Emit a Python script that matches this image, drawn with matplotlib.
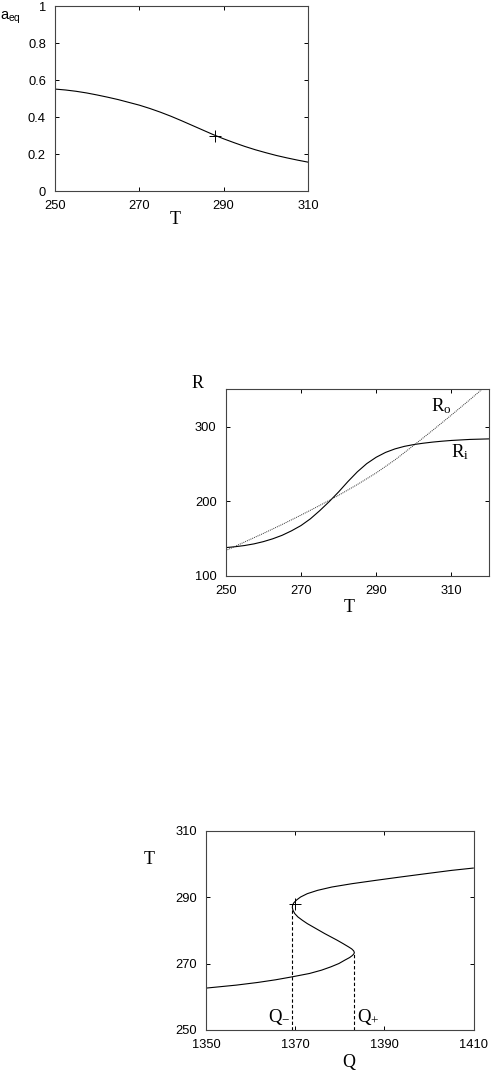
import numpy as np
import matplotlib
matplotlib.use('Agg')
import matplotlib.pyplot as plt

plt.rcParams['font.family'] = ['Liberation Sans', 'DejaVu Sans']
plt.rcParams['mathtext.fontset'] = 'custom'
plt.rcParams['mathtext.rm'] = 'Liberation Serif'
plt.rcParams['mathtext.it'] = 'Liberation Serif'
plt.rcParams['mathtext.sf'] = 'Liberation Sans'

# painel 1: a_eq(T)
T1 = [250, 252.5, 255, 257.5, 260, 262.5, 265, 267.5, 270, 272.5, 275, 277.5, 280,
      282.5, 285, 287.5, 290, 292.5, 295, 297.5, 300, 302.5, 305, 307.5, 310]
a_eq = [0.551, 0.546, 0.539, 0.530, 0.519, 0.507, 0.494, 0.479, 0.464, 0.446, 0.426, 0.404, 0.380,
        0.355, 0.330, 0.305, 0.282, 0.261, 0.241, 0.223, 0.207, 0.192, 0.179, 0.167, 0.156]
ponto1 = (288, 0.30)

# painel 2: R_i e R_o em funcao de T
T2 = [250, 252.5, 255, 257.5, 260, 262.5, 265, 267.5, 270, 272.5, 275, 277.5, 280, 282.5,
      285, 287.5, 290, 292.5, 295, 297.5, 300, 302.5, 305, 307.5, 310, 315, 320]
R_i = [138, 139.2, 140.8, 143, 146, 149.8, 154.5, 160.5, 167.5, 176.5, 187.5, 199.5, 212.5, 226.5,
       239.5, 250.5, 259, 265.5, 270.2, 273.6, 276, 277.8, 279.3, 280.5, 281.5, 282.9, 283.6]
T2o = [250, 255, 260, 265, 270, 275, 280, 285, 290, 295, 300, 305, 310, 315, 320]
R_o = [134, 145.5, 157, 169, 181.5, 194.5, 208, 222.5, 238, 255.5, 275, 295, 315.5, 336.5, 358]

# painel 3: curva S, T(Q)
T3 = [262.6, 263.5, 264.3, 265.1, 266.0, 267.0, 268.0, 269.0, 270.0, 271.0, 271.8, 272.4, 272.9,
      273.3, 273.8, 274.4, 275.0, 276.0, 277.0, 278.0, 279.0, 280.0, 281.0, 282.0, 283.0, 284.0,
      285.0, 286.0, 286.8, 287.5, 288.2, 289.1, 290.0, 291.0, 292.0, 293.0, 294.0, 295.0, 296.0,
      297.0, 298.0, 298.7]
Q3 = [1350, 1356.8, 1361.6, 1365.6, 1369.35, 1373.2, 1375.9, 1378.0, 1379.8, 1381.1, 1382.2, 1382.8,
      1383.15, 1383.25, 1383.1, 1382.65, 1381.95, 1380.7, 1379.4, 1378.0, 1376.6, 1375.3, 1374.0, 1372.7,
      1371.6, 1370.6, 1369.9, 1369.5, 1369.35, 1369.4, 1369.65, 1370.3, 1371.2, 1372.7, 1375.0, 1378.2,
      1382.7, 1388.0, 1393.5, 1399.2, 1405.0, 1409.9]
Q_menos = (1369.35, 286.4)
Q_mais = (1383.25, 273.3)
ponto3 = (1370, 288)

W, H = 491, 1081
fig = plt.figure(figsize=(W / 100, H / 100), dpi=100)

def caixa(l, t, r, b):
    return [l / W, 1 - b / H, (r - l) / W, (b - t) / H]

def estilo(ax, xt, yt, xlim, ylim):
    ax.set_xlim(*xlim)
    ax.set_ylim(*ylim)
    ax.set_xticks(xt)
    ax.set_yticks(yt)
    ax.tick_params(direction='in', top=True, right=True, length=3, width=0.7,
                   pad=6.5, labelsize=9.3, colors='black')
    for s in ax.spines.values():
        s.set_color('#444444')
        s.set_linewidth(0.8)

def txt(x, y, s, size=13, **kw):
    fig.text(x / W, 1 - y / H, s, fontsize=size, ha='center', va='center', **kw)

serif = ['Liberation Serif', 'DejaVu Serif']

# painel 1
ax1 = fig.add_axes(caixa(55, 6, 308, 191))
ax1.plot(T1, a_eq, color='black', lw=0.8)
ax1.plot(*ponto1, marker='+', color='black', ms=8, mew=0.7)
estilo(ax1, [250, 270, 290, 310], [0, 0.2, 0.4, 0.6, 0.8, 1], (250, 310), (0, 1))
ax1.set_yticklabels(['0', '0.2', '0.4', '0.6', '0.8', '1'])
txt(175, 219.5, 'T', family=serif)
fig.text(0 / W, 1 - 17 / H, r'$\mathsf{a}_{\mathsf{eq}}$', fontsize=10.5, ha='left', va='center')

# painel 2
ax2 = fig.add_axes(caixa(225.7, 389.3, 489, 576))
ax2.plot(T2, R_i, color='black', lw=0.8)
ax2.plot(T2o, R_o, color='#333333', lw=0.7, ls=(0, (1, 1)))
estilo(ax2, [250, 270, 290, 310], [100, 200, 300], (250, 320), (100, 350))
ax2.text(304.5, 320, r'$\mathrm{R}_{\mathrm{o}}$', fontsize=13.5, ha='left', va='baseline')
ax2.text(309.8, 258.7, r'$\mathrm{R}_{\mathrm{i}}$', fontsize=13.5, ha='left', va='baseline')
txt(197.5, 384, 'R', family=serif)
txt(349, 607, 'T', family=serif)

# painel 3
ax3 = fig.add_axes(caixa(206, 830.5, 473.7, 1030))
ax3.plot(Q3, T3, color='black', lw=0.8)
ax3.plot(*ponto3, marker='+', color='black', ms=8, mew=0.7)
ax3.plot([Q_menos[0]] * 2, [250, Q_menos[1]], color='black', lw=0.8, ls=(0, (3, 2)))
ax3.plot([Q_mais[0]] * 2, [250, Q_mais[1]], color='black', lw=0.8, ls=(0, (3, 2)))
estilo(ax3, [1350, 1370, 1390, 1410], [250, 270, 290, 310], (1350, 1410), (250, 310))
ax3.text(1363.9, 252.4, r'$\mathrm{Q}_{-}$', fontsize=13.5, ha='left', va='baseline')
ax3.text(1383.8, 252.4, r'$\mathrm{Q}_{+}$', fontsize=13.5, ha='left', va='baseline')
txt(149, 859, 'T', family=serif)
txt(349, 1062, 'Q', family=serif)

fig.savefig('out.png', dpi=100)
